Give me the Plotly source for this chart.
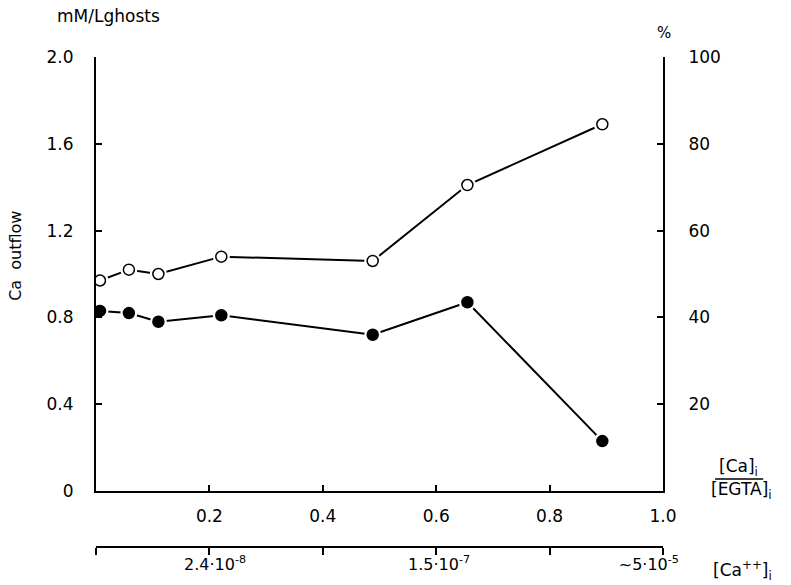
import plotly.graph_objects as go

# Data
ratio_x = [0.007, 0.058, 0.110, 0.221, 0.488, 0.655, 0.893]
open_vals = [0.97, 1.02, 1.00, 1.08, 1.06, 1.41, 1.69]     # open circles
filled_vals = [0.83, 0.82, 0.78, 0.81, 0.72, 0.87, 0.23]   # filled circles

left_ticks = [0, 0.4, 0.8, 1.2, 1.6, 2.0]
left_text = ["0", "0.4", "0.8", "1.2", "1.6", "2.0"]
right_ticks = [20, 40, 60, 80, 100]
bottom_ticks = [0.2, 0.4, 0.6, 0.8, 1.0]
bottom_text = ["0.2", "0.4", "0.6", "0.8", "1.0"]
ca_tick_pos = [0, 0.2, 0.4, 0.6, 0.8, 1.0]
ca_label_pos = [0.21, 0.605, 0.975]
ca_label_text = ["2.4·10<sup>-8</sup>", "1.5·10<sup>-7</sup>", "~5·10<sup>-5</sup>"]

FONT = "DejaVu Sans"
fig = go.Figure()

for vals, fill in [(open_vals, "white"), (filled_vals, "black")]:
    fig.add_trace(go.Scatter(x=ratio_x, y=vals, mode="lines",
                             line=dict(color="black", width=2), hoverinfo="skip",
                             showlegend=False))
    fig.add_trace(go.Scatter(x=ratio_x, y=vals, mode="markers",
                             marker=dict(color="white", size=17, line=dict(width=0)),
                             hoverinfo="skip", showlegend=False))
    fig.add_trace(go.Scatter(x=ratio_x, y=vals, mode="markers",
                             marker=dict(color=fill, size=11,
                                         line=dict(color="black", width=1.5)),
                             showlegend=False))

# invisible helper traces so overlay axes render
fig.add_trace(go.Scatter(x=[0, 1], y=[0, 100], xaxis="x", yaxis="y2", mode="markers",
                         marker=dict(opacity=0), hoverinfo="skip", showlegend=False))
fig.add_trace(go.Scatter(x=[0, 1], y=[0, 0], xaxis="x2", yaxis="y", mode="markers",
                         marker=dict(opacity=0), hoverinfo="skip", showlegend=False))
fig.add_trace(go.Scatter(x=[0, 1], y=[0, 0], xaxis="x3", yaxis="y", mode="markers",
                         marker=dict(opacity=0), hoverinfo="skip", showlegend=False))

ydom0 = (547 - 491) / 490

fig.update_layout(
    width=791, height=585,
    margin=dict(l=96, r=128, t=57, b=38),
    paper_bgcolor="white", plot_bgcolor="white",
    font=dict(family=FONT, size=17, color="black"),
    xaxis=dict(range=[0, 1], domain=[0, 1], anchor="y", showgrid=False, zeroline=False,
               showline=True, linecolor="black", linewidth=2,
               ticks="inside", ticklen=6, tickwidth=1.5, tickcolor="black",
               tickvals=bottom_ticks, ticktext=bottom_text, ticklabelstandoff=9),
    xaxis2=dict(range=[0, 1], overlaying="x", anchor="free", position=0,
                showgrid=False, zeroline=False, showline=True, linecolor="black",
                linewidth=2, ticks="outside", ticklen=7, tickwidth=1.5, tickcolor="black",
                tickvals=ca_tick_pos, showticklabels=False),
    xaxis3=dict(range=[0, 1], overlaying="x", anchor="free", position=0,
                showgrid=False, zeroline=False, showline=False, ticks="",
                tickvals=ca_label_pos, ticktext=ca_label_text, ticklabelstandoff=6,
                tickfont=dict(size=16)),
    yaxis=dict(range=[0, 2], domain=[ydom0, 1], anchor="x", showgrid=False, zeroline=False,
               showline=True, linecolor="black", linewidth=2,
               ticks="inside", ticklen=6, tickwidth=1.5, tickcolor="black",
               tickvals=left_ticks, ticktext=left_text, ticklabelstandoff=17),
    yaxis2=dict(range=[0, 100], overlaying="y", side="right", anchor="x",
                showgrid=False, zeroline=False, showline=True, linecolor="black",
                linewidth=2, ticks="inside", ticklen=6, tickwidth=1.5, tickcolor="black",
                tickvals=right_ticks, ticklabelstandoff=20),
)

def py(pix):
    return (547 - pix) / 490

def px(pix):
    return (pix - 96) / 566

ann = [
    dict(text="mM/Lghosts", x=px(108), y=py(16), size=17),
    dict(text="%", x=px(663), y=py(33), size=15),
    dict(text="[Ca]<sub>i</sub>", x=px(737), y=py(467), size=17),
    dict(text="[EGTA]<sub>i</sub>", x=px(740), y=py(490), size=17),
    dict(text="[Ca<sup>++</sup>]<sub>i</sub>", x=px(741), y=py(570), size=17),
]
for a in ann:
    fig.add_annotation(text=a["text"], x=a["x"], y=a["y"], xref="paper", yref="paper",
                       showarrow=False, xanchor="center", yanchor="middle",
                       font=dict(family=FONT, size=a["size"], color="black"))
fig.add_annotation(text="Ca  outflow", x=px(15), y=py(256), xref="paper", yref="paper",
                   showarrow=False, textangle=-90, xanchor="center", yanchor="middle",
                   font=dict(family=FONT, size=16, color="black"))
fig.add_shape(type="line", xref="paper", yref="paper", x0=px(714), x1=px(762),
              y0=py(479), y1=py(479), line=dict(color="black", width=1.5))

fig.write_html("out.html")
